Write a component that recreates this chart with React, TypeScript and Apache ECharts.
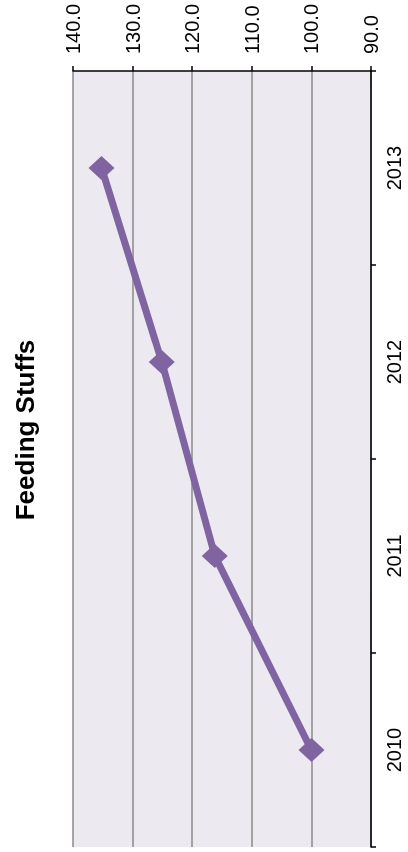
import React, { useEffect, useRef } from "react";
import * as echarts from "echarts";

const TITLE = "Feeding Stuffs";
const years = ["2010", "2011", "2012", "2013"];
const values = [100.0, 116.2, 125.1, 135.2];
const valueMin = 90;
const valueMax = 140;
const valueStep = 10;

const FONT = 'Arial, "Liberation Sans", sans-serif';

// The chart is drawn landscape (852 x 408) and the whole box is turned
// 90 degrees counter-clockwise to fit the 408 x 852 page.
const W = 852;
const H = 408;

export default function App() {
  const ref = useRef<HTMLDivElement>(null);
  useEffect(() => {
    if (!ref.current) return;
    const chart = echarts.init(ref.current, null, { renderer: "svg" });
    chart.setOption({
      animation: false,
      backgroundColor: "#ffffff",
      graphic: [
        {
          type: "text",
          x: 422,
          y: 25,
          style: {
            text: TITLE,
            font: `bold 26px ${FONT}`,
            fill: "#000000",
            align: "center",
            verticalAlign: "middle",
          },
        },
      ],
      grid: {
        left: 5,
        right: 71,
        top: 73,
        bottom: 37,
        show: true,
        backgroundColor: "#ECE9F0",
        borderWidth: 0,
      },
      xAxis: {
        type: "category",
        position: "bottom",
        data: years,
        boundaryGap: true,
        axisLine: { show: true, lineStyle: { color: "#000000", width: 1.5 } },
        axisTick: { show: true, inside: false, length: 5, lineStyle: { color: "#000000", width: 1.5 } },
        axisLabel: {
          margin: 13,
          fontSize: 20,
          fontFamily: FONT,
          color: "#000000",
        },
        splitLine: { show: false },
      },
      yAxis: {
        type: "value",
        position: "right",
        min: valueMin,
        max: valueMax,
        interval: valueStep,
        axisLine: { show: true, lineStyle: { color: "#000000", width: 1.5 } },
        axisTick: { show: true, inside: false, length: 5, lineStyle: { color: "#000000", width: 1.5 } },
        axisLabel: {
          margin: 17,
          fontSize: 20,
          fontFamily: FONT,
          color: "#000000",
          formatter: (v: number) => v.toFixed(1),
        },
        splitLine: { show: true, lineStyle: { color: "#8A8A8A", width: 1.5 } },
      },
      series: [
        {
          type: "line",
          data: values,
          symbol: "diamond",
          symbolSize: [24, 26],
          itemStyle: { color: "#8064A2" },
          lineStyle: { color: "#8064A2", width: 7 },
        },
      ],
    });
    return () => chart.dispose();
  }, []);
  return (
    <div
      ref={ref}
      style={{
        position: "fixed",
        left: 0,
        top: 0,
        width: W,
        height: H,
        transformOrigin: "0 0",
        transform: `translate(0px, ${W}px) rotate(-90deg)`,
      }}
    />
  );
}
